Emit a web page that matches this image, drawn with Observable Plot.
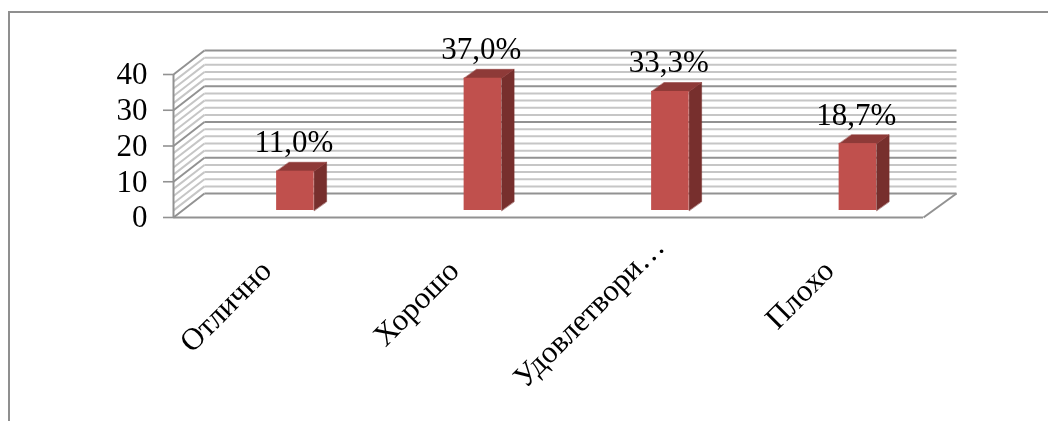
<!DOCTYPE html>
<html><head><meta charset="utf-8">
<script src="https://cdn.jsdelivr.net/npm/d3@7"></script>
<script src="https://cdn.jsdelivr.net/npm/@observablehq/plot@0.6"></script>
<style>
html,body{margin:0;padding:0;background:#fff;overflow:hidden}
#frame{position:absolute;left:8px;top:11px;right:-10px;bottom:-10px;border-top:2px solid #8f8f8f;border-left:2px solid #8f8f8f}
#c{position:absolute;left:0;top:0}
</style></head><body><div id="frame"></div><div id="c"></div>
<script>
const categories = ["Отлично", "Хорошо", "Удовлетвори…", "Плохо"];
const values = [11.0, 37.0, 33.3, 18.7];
const valueLabels = ["11,0%", "37,0%", "33,3%", "18,7%"];
const majorTicks = [0, 10, 20, 30, 40];
const minorTicks = d3.range(0, 41, 2).filter(v => v % 10 !== 0);

// oblique depth of the 3D box and the bars, in scale units
const wallX = 0.165, wallY = 6.7, wallEnd = 4.176;
const barDX = 0.0667, barDY = 2.5;
const barShift = 0.15, barHalf = 0.1;

const rows = categories.map((c, i) => ({c, i, v: values[i], label: valueLabels[i],
  l: i + 0.5 + barShift - barHalf, r: i + 0.5 + barShift + barHalf}));
const topFace = rows.flatMap(d => [[d.l, d.v], [d.r, d.v], [d.r + barDX, d.v + barDY], [d.l + barDX, d.v + barDY]]
  .map(([x, y]) => ({x, y, z: d.i})));
const sideFace = rows.flatMap(d => [[d.r, 0], [d.r, d.v], [d.r + barDX, d.v + barDY], [d.r + barDX, barDY]]
  .map(([x, y]) => ({x, y, z: d.i})));

const gridMinor = "#c6c6c6", gridMajor = "#929292";
const wall = (ticks, stroke, w) => [
  Plot.link(ticks, {x1: 0, y1: d => d, x2: wallX, y2: d => d + wallY, stroke, strokeWidth: w}),
  Plot.link(ticks, {x1: wallX, y1: d => d + wallY, x2: wallEnd, y2: d => d + wallY, stroke, strokeWidth: w})
];
const closed = (data, fill) => Plot.line(data, {x: "x", y: "y", z: "z", fill, stroke: fill, strokeWidth: 0.5, curve: "linear-closed", dy: -7});
const isLong = d => d.c.endsWith("…");
const catLabel = (filter, dx, dy) => Plot.text(rows, {filter, x: d => d.i + 0.5, y: 0, text: "c", fontSize: 31, fill: "#000", rotate: -45, textAnchor: "end", lineAnchor: "middle", dx, dy});

const chart = Plot.plot({
  width: 1048, height: 421,
  marginLeft: 173, marginRight: 125, marginTop: 74, marginBottom: 204,
  x: {domain: [0, 4], axis: null},
  y: {domain: [0, 40], axis: null},
  style: {fontFamily: "'Liberation Serif'", background: "transparent", overflow: "visible", filter: "blur(0.35px)"},
  marks: [
    ...wall(minorTicks, gridMinor, 2),
    ...wall(majorTicks, gridMajor, 2),
    Plot.ruleY([0], {x1: 0, x2: 4, stroke: gridMajor, strokeWidth: 2}),
    Plot.link([0], {x1: 4, y1: 0, x2: wallEnd, y2: wallY, stroke: gridMajor, strokeWidth: 2}),
    Plot.ruleX([0], {y1: 0, y2: 40, stroke: gridMajor, strokeWidth: 2}),
    Plot.axisY(majorTicks, {anchor: "left", tickSize: 10, tickPadding: 16, fontSize: 31, stroke: gridMajor, strokeWidth: 1.6, fill: "#000", label: null, tickFormat: d => d}),
    closed(sideFace, "#772f2d"),
    closed(topFace, "#8e3a38"),
    Plot.rect(rows, {x1: "l", x2: "r", y1: 0, y2: "v", fill: "#c0504d", dy: -7}),
    Plot.text(rows, {x: d => d.l + barHalf, y: "v", text: "label", fontSize: 31, fill: "#000", dy: -26, dx: -1.5, textAnchor: "middle", lineAnchor: "bottom"}),
    catLabel(d => !isLong(d), -1, 48),
    catLabel(isLong, 17, 24)
  ]
});
document.getElementById("c").appendChild(chart);
</script></body></html>
